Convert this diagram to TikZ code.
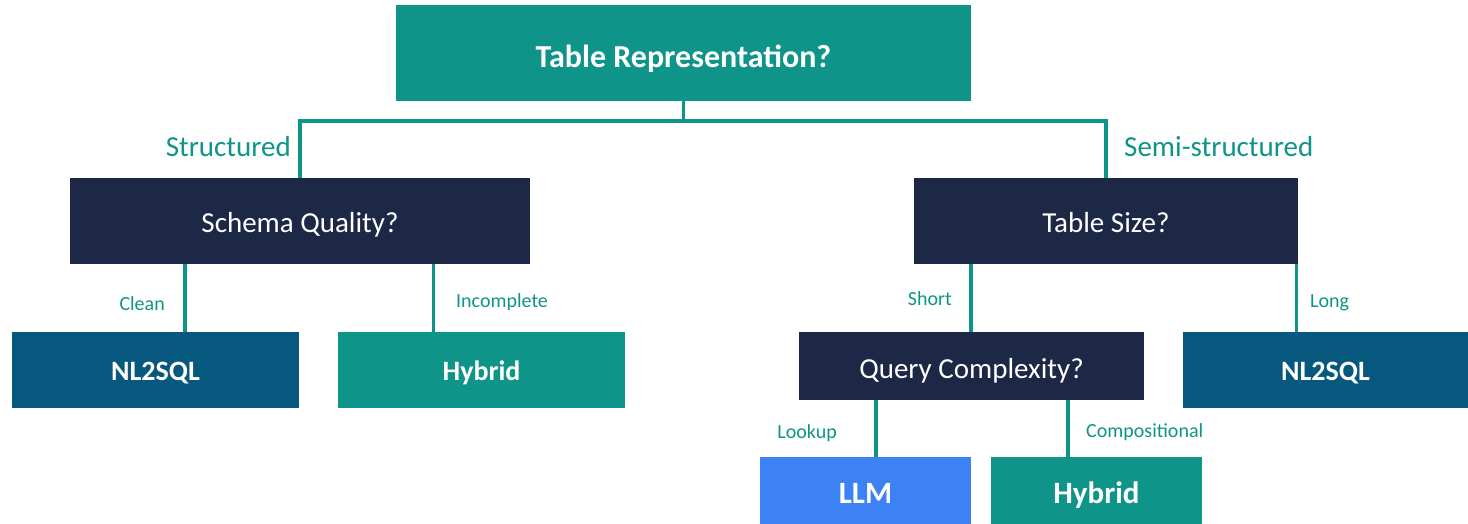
\documentclass[tikz,border=0pt]{standalone}
\usepackage{fontspec}
\setmainfont{Carlito}
\usetikzlibrary{calc}
\definecolor{tealc}{HTML}{0E9488}
\definecolor{navy}{HTML}{1C2846}
\definecolor{deepblue}{HTML}{07587F}
\definecolor{brightblue}{HTML}{3D82F5}
\tikzset{
  box/.style={draw=none, inner sep=0pt, outer sep=0pt, text=white, align=center},
  decision/.style={box, fill=navy, font=\fontsize{29}{33}\selectfont,
                   text height=26pt, text depth=2pt},
  outcome/.style={box, font=\bfseries\fontsize{28}{32}\selectfont,
                  text height=22pt, text depth=2pt},
  leaf/.style={box, font=\bfseries\fontsize{31}{35}\selectfont,
               text height=27pt, text depth=2pt},
  link/.style={draw=tealc, line width=3.5pt},
  branch/.style={text=tealc, inner sep=0pt, font=\fontsize{29}{33}\selectfont},
  sublabel/.style={text=tealc, inner sep=0pt, font=\fontsize{20}{24}\selectfont},
}
\begin{document}
\begin{tikzpicture}[x=1pt, y=-1pt]
\useasboundingbox (0,0) rectangle (1468,524);

% question nodes
\node[box, fill=tealc, minimum width=575pt, minimum height=96pt,
      font=\bfseries\fontsize{32}{36}\selectfont, text height=31pt, text depth=1.5pt]
      (root) at (683.5,53) {Table Representation?};
\node[decision, minimum width=460pt, minimum height=86pt] (schema) at (300,221) {Schema Quality?};
\node[decision, minimum width=384pt, minimum height=86pt] (size) at (1106,221) {Table Size?};
\node[decision, minimum width=345pt, minimum height=68pt] (query) at (971.5,366) {Query Complexity?};

% answer nodes
\node[outcome, fill=deepblue, minimum width=287pt, minimum height=76pt] (nlA) at (155.5,370) {NL2SQL};
\node[outcome, fill=tealc, minimum width=287pt, minimum height=76pt] (hybA) at (481.5,370) {Hybrid};
\node[outcome, fill=deepblue, minimum width=285pt, minimum height=76pt] (nlB) at (1325.5,370) {NL2SQL};
\node[leaf, fill=brightblue, minimum width=211pt, minimum height=67pt] (llm) at (865.5,490.5) {LLM};
\node[leaf, fill=tealc, minimum width=211pt, minimum height=67pt] (hybB) at (1096.5,490.5) {Hybrid};

% top split
\draw[link] (root.south) -- ++(0,20) coordinate (split);
\draw[link] (schema.north) |- (split) -| (size.north);

% branch connectors
\coordinate (sA) at ($(schema.south west)!0.25!(schema.south east)$);
\coordinate (sB) at ($(schema.south west)!0.79!(schema.south east)$);
\coordinate (tA) at ($(size.south west)!0.148!(size.south east)$);
\coordinate (tB) at (size.south east);
\coordinate (qA) at ($(query.south west)!0.223!(query.south east)$);
\coordinate (qB) at ($(query.south west)!0.78!(query.south east)$);
\draw[link] (sA) -- (sA |- nlA.north);
\draw[link] (sB) -- (sB |- hybA.north);
\draw[link] (tA) -- (tA |- query.north);
\draw[link] ([xshift=-1.75pt]tB) -- ([xshift=-1.75pt]tB |- nlB.north);
\draw[link] (qA) -- (qA |- llm.north);
\draw[link] (qB) -- (qB |- hybB.north);

% branch labels
\node[branch, anchor=east] (lStruct) at (291,147) {Structured};
\node[branch, anchor=west] (lSemi) at (1124,147) {Semi-structured};
\node[sublabel, anchor=east] (lClean) at (165,304) {Clean};
\node[sublabel, anchor=west] (lInc) at (456,302) {Incomplete};
\node[sublabel, anchor=east] (lShort) at (952,299) {Short};
\node[sublabel, anchor=west] (lLong) at (1310,303) {Long};
\node[sublabel, anchor=east] (lLook) at (837,433) {Lookup};
\node[sublabel, anchor=west] (lComp) at (1086,432) {Compositional};
\end{tikzpicture}
\end{document}
